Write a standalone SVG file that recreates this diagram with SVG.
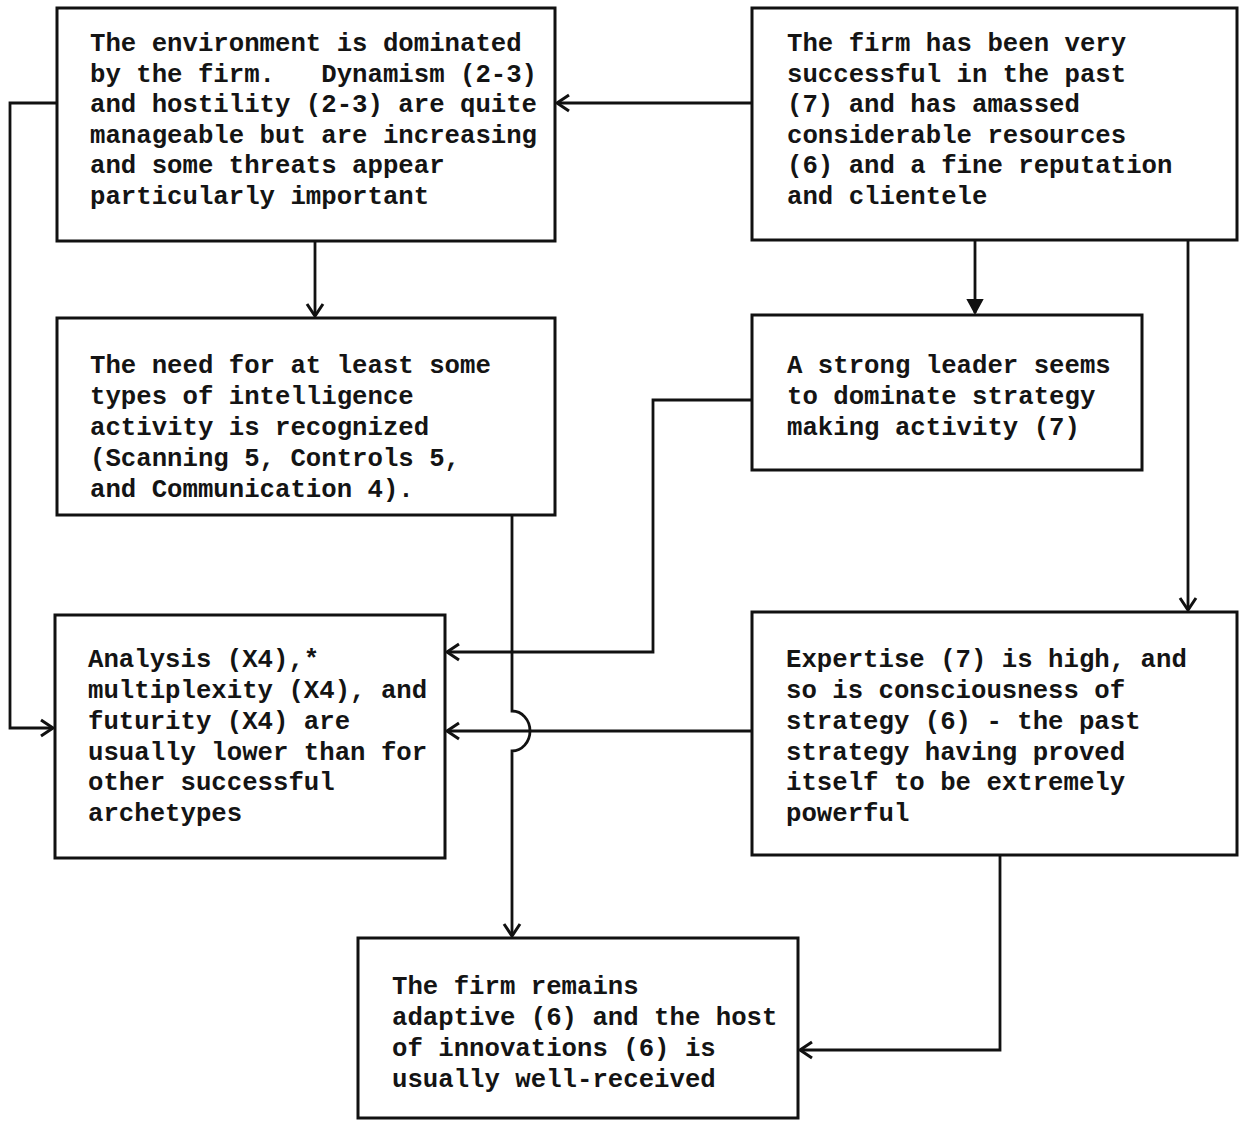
<svg xmlns="http://www.w3.org/2000/svg" width="1245" height="1125" viewBox="0 0 1245 1125">
<style>
.box{fill:#fff;stroke:#111;stroke-width:3}
.t{font-family:"Liberation Mono","Courier New",monospace;font-size:25.7px;font-weight:bold;fill:#141414;white-space:pre}
.c{fill:none;stroke:#111;stroke-width:2.8}
</style>
<defs>
<marker id="ah" markerUnits="userSpaceOnUse" markerWidth="20" markerHeight="20" viewBox="-14 -10 16 20" refX="0" refY="0" orient="auto">
<path d="M-12,-8 L0,0 L-12,8" fill="none" stroke="#111" stroke-width="3"/>
</marker>
<marker id="ahf" markerUnits="userSpaceOnUse" markerWidth="20" markerHeight="20" viewBox="-14 -10 16 20" refX="0" refY="0" orient="auto">
<path d="M-13,-7 L0,0 L-13,7 Z" fill="#111" stroke="#111" stroke-width="2"/>
</marker>
</defs>
<rect width="1245" height="1125" fill="#fff"/>
<g id="connectors">
<path class="c" d="M752,103 H557" marker-end="url(#ah)"/>
<path class="c" d="M315,241 V316" marker-end="url(#ah)"/>
<path class="c" d="M975,240 V313" stroke-width="4" marker-end="url(#ahf)"/>
<path class="c" d="M1188,240 V610" marker-end="url(#ah)"/>
<path class="c" d="M57,103 H10 V728 H53" marker-end="url(#ah)"/>
<path class="c" d="M752,400 H653 V652 H447" marker-end="url(#ah)"/>
<path class="c" d="M752,731 H447" marker-end="url(#ah)"/>
<path class="c" d="M512,515 V711 A18 20 0 0 1 512,751 V936" marker-end="url(#ah)"/>
<path class="c" d="M1000,855 V1050 H800" marker-end="url(#ah)"/>
</g>
<g id="node-environment">
<rect class="box" x="57" y="8" width="498" height="233"/>
<text class="t" x="90" y="51">The environment is dominated</text>
<text class="t" x="90" y="82" xml:space="preserve">by the firm.   Dynamism (2-3)</text>
<text class="t" x="90" y="112">and hostility (2-3) are quite</text>
<text class="t" x="90" y="143">manageable but are increasing</text>
<text class="t" x="90" y="173">and some threats appear</text>
<text class="t" x="90" y="204">particularly important</text>
</g>
<g id="node-success">
<rect class="box" x="752" y="8" width="485" height="232"/>
<text class="t" x="787" y="51">The firm has been very</text>
<text class="t" x="787" y="82">successful in the past</text>
<text class="t" x="787" y="112">(7) and has amassed</text>
<text class="t" x="787" y="143">considerable resources</text>
<text class="t" x="787" y="173">(6) and a fine reputation</text>
<text class="t" x="787" y="204">and clientele</text>
</g>
<g id="node-intelligence">
<rect class="box" x="57" y="318" width="498" height="197"/>
<text class="t" x="90" y="373">The need for at least some</text>
<text class="t" x="90" y="404">types of intelligence</text>
<text class="t" x="90" y="435">activity is recognized</text>
<text class="t" x="90" y="466">(Scanning 5, Controls 5,</text>
<text class="t" x="90" y="497">and Communication 4).</text>
</g>
<g id="node-leader">
<rect class="box" x="752" y="315" width="390" height="155"/>
<text class="t" x="787" y="373">A strong leader seems</text>
<text class="t" x="787" y="404">to dominate strategy</text>
<text class="t" x="787" y="435">making activity (7)</text>
</g>
<g id="node-analysis">
<rect class="box" x="55" y="615" width="390" height="243"/>
<text class="t" x="88" y="667">Analysis (X4),*</text>
<text class="t" x="88" y="698">multiplexity (X4), and</text>
<text class="t" x="88" y="729">futurity (X4) are</text>
<text class="t" x="88" y="760">usually lower than for</text>
<text class="t" x="88" y="790">other successful</text>
<text class="t" x="88" y="821">archetypes</text>
</g>
<g id="node-expertise">
<rect class="box" x="752" y="612" width="485" height="243"/>
<text class="t" x="786" y="667">Expertise (7) is high, and</text>
<text class="t" x="786" y="698">so is consciousness of</text>
<text class="t" x="786" y="729">strategy (6) - the past</text>
<text class="t" x="786" y="760">strategy having proved</text>
<text class="t" x="786" y="790">itself to be extremely</text>
<text class="t" x="786" y="821">powerful</text>
</g>
<g id="node-adaptive">
<rect class="box" x="358" y="938" width="440" height="180"/>
<text class="t" x="392" y="994">The firm remains</text>
<text class="t" x="392" y="1025">adaptive (6) and the host</text>
<text class="t" x="392" y="1056">of innovations (6) is</text>
<text class="t" x="392" y="1087">usually well-received</text>
</g>
</svg>
